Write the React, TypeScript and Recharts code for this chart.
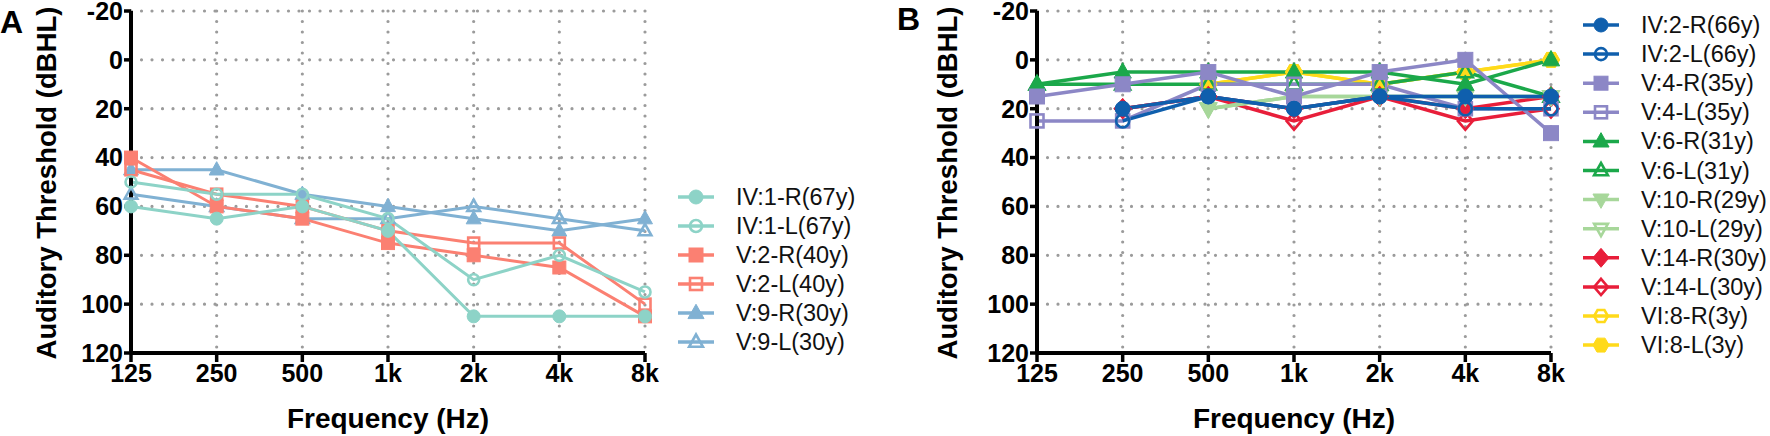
import React from 'react';
import { LineChart, Line, XAxis, YAxis, CartesianGrid } from 'recharts';

// ---------- shared axis data ----------
const FREQS = ['125', '250', '500', '1k', '2k', '4k', '8k'];
const Y_TICKS = [-20, 0, 20, 40, 60, 80, 100, 120];

// ---------- Panel A ----------
const A_NAMES = ['IV:1-R(67y)', 'IV:1-L(67y)', 'V:2-R(40y)', 'V:2-L(40y)', 'V:9-R(30y)', 'V:9-L(30y)'];
const A_IV1_R = [60, 65, 60, 70, 105, 105, 105];
const A_IV1_L = [50, 55, 55, 65, 90, 80, 95];
const A_V2_R = [40, 60, 65, 75, 80, 85, 105];
const A_V2_L = [45, 55, 60, 70, 75, 75, 100];
const A_V9_R = [45, 45, 55, 60, 65, 70, 65];
const A_V9_L = [55, 60, 65, 65, 60, 65, 70];
const A_VALUES = [A_IV1_R, A_IV1_L, A_V2_R, A_V2_L, A_V9_R, A_V9_L];
const A_COLORS = ['#8DD3C7', '#8DD3C7', '#FB8072', '#FB8072', '#80B1D3', '#80B1D3'];
const A_SHAPES = ['circle', 'circle', 'square', 'square', 'triangle', 'triangle'];
const A_FILLED = [true, false, true, false, true, false];

// ---------- Panel B ----------
const B_NAMES = [
  'IV:2-R(66y)', 'IV:2-L(66y)', 'V:4-R(35y)', 'V:4-L(35y)', 'V:6-R(31y)', 'V:6-L(31y)',
  'V:10-R(29y)', 'V:10-L(29y)', 'V:14-R(30y)', 'V:14-L(30y)', 'VI:8-R(3y)', 'VI:8-L(3y)',
];
const B_IV2_R = [null, 20, 15, 20, 15, 15, 15];
const B_IV2_L = [null, 25, 15, 20, 15, 20, 20];
const B_V4_R = [15, 10, 5, 15, 5, 0, 30];
const B_V4_L = [25, 25, 10, 10, 10, 20, 20];
const B_V6_R = [10, 5, 5, 5, 5, 10, 0];
const B_V6_L = [10, 10, 10, 10, 10, 5, 15];
const B_V10_R = [null, null, 20, 15, 15, 15, 15];
const B_V10_L = [null, null, 20, 15, 15, 15, 15];
const B_V14_R = [null, 20, 15, 20, 15, 20, 15];
const B_V14_L = [null, 20, 15, 25, 15, 25, 20];
const B_VI8_R = [null, null, 10, 5, 10, 5, 0];
const B_VI8_L = [null, null, 10, 5, 10, 5, 0];
const B_VALUES = [B_IV2_R, B_IV2_L, B_V4_R, B_V4_L, B_V6_R, B_V6_L, B_V10_R, B_V10_L, B_V14_R, B_V14_L, B_VI8_R, B_VI8_L];
const B_COLORS = ['#0F5FAD', '#0F5FAD', '#8C87C6', '#8C87C6', '#1BA84A', '#1BA84A', '#A7D79A', '#A7D79A', '#E81E3A', '#E81E3A', '#FFDA1A', '#FFDA1A'];
const B_SHAPES = ['circle', 'circle', 'square', 'square', 'triangle', 'triangle', 'triangleDown', 'triangleDown', 'diamond', 'diamond', 'hexagon', 'hexagon'];
const B_FILLED = [true, false, true, false, true, false, true, false, true, false, false, true];

const FONT = "'Liberation Sans', Arial, Helvetica, sans-serif";

function buildData(values: (number | null)[][]) {
  return FREQS.map((f, i) => {
    const row: any = { freq: f };
    values.forEach((s, k) => { row['s' + k] = s[i]; });
    return row;
  });
}

function Marker({ cx, cy, shape, filled, color, r }: any) {
  const sw = filled ? 1 : 2.6;
  const rr = filled ? r : r - 1;
  const fill = filled ? color : 'none';
  const common = { fill, stroke: color, strokeWidth: sw, strokeLinejoin: 'miter' as const };
  if (shape === 'circle') return <circle cx={cx} cy={cy} r={rr} {...common} />;
  if (shape === 'square') return <rect x={cx - rr} y={cy - rr} width={2 * rr} height={2 * rr} {...common} />;
  let pts: number[][] = [];
  if (shape === 'triangle') pts = [[0, -1.25], [1.15, 0.8], [-1.15, 0.8]];
  if (shape === 'triangleDown') pts = [[0, 1.25], [1.15, -0.8], [-1.15, -0.8]];
  if (shape === 'diamond') pts = [[0, -1.35], [1.15, 0], [0, 1.35], [-1.15, 0]];
  if (shape === 'hexagon') pts = [0, 60, 120, 180, 240, 300].map((a) => [Math.cos((a * Math.PI) / 180) * 1.15, Math.sin((a * Math.PI) / 180) * 1.15]);
  const p = pts.map(([x, y]) => `${cx + x * rr},${cy + y * rr}`).join(' ');
  return <polygon points={p} {...common} />;
}

function Panel({ values, colors, shapes, filled, width, yAxisWidth, yLabelX, markerR, lineW }: any) {
  const data = buildData(values);
  const order = values.map((_: any, i: number) => i).reverse();
  return (
    <LineChart width={width} height={436} data={data} margin={{ top: 11, right: 26, bottom: 0, left: 0 }}>
      <CartesianGrid stroke="#9b9b9b" strokeWidth={3.2} strokeDasharray="0 10.5" strokeLinecap="round" />
      <XAxis
        dataKey="freq"
        height={83}
        interval={0}
        tickSize={9}
        tickMargin={2}
        axisLine={{ stroke: '#000', strokeWidth: 4 }}
        tickLine={{ stroke: '#000', strokeWidth: 3.5 }}
        tick={{ fill: '#000', fontSize: 25, fontWeight: 700, fontFamily: FONT }}
        label={(p: any) => {
          const vb = p.viewBox;
          return (
            <text x={vb.x + vb.width / 2} y={vb.y + 75} textAnchor="middle" fill="#000" fontSize={28} fontWeight={700} fontFamily={FONT}>
              Frequency (Hz)
            </text>
          );
        }}
      />
      <YAxis
        width={yAxisWidth}
        reversed
        domain={[-20, 120]}
        ticks={Y_TICKS}
        interval={0}
        tickSize={7}
        tickMargin={1}
        axisLine={{ stroke: '#000', strokeWidth: 4 }}
        tickLine={{ stroke: '#000', strokeWidth: 3.5 }}
        tick={{ fill: '#000', fontSize: 25, fontWeight: 700, fontFamily: FONT }}
        label={(p: any) => {
          const vb = p.viewBox;
          const cy = vb.y + vb.height / 2 + 1;
          return (
            <text transform={`translate(${yLabelX},${cy}) rotate(-90)`} textAnchor="middle" dominantBaseline="central" fill="#000" fontSize={27.5} fontWeight={700} fontFamily={FONT}>
              Auditory Threshold (dBHL)
            </text>
          );
        }}
      />
      {order.map((k: number) => (
        <Line
          key={k}
          type="linear"
          dataKey={'s' + k}
          stroke={colors[k]}
          strokeWidth={lineW}
          isAnimationActive={false}
          activeDot={false}
          dot={(p: any) =>
            p.cx == null || p.cy == null || p.value == null ? (
              <g key={'d' + k + '-' + p.index} />
            ) : (
              <Marker key={'d' + k + '-' + p.index} cx={p.cx} cy={p.cy} shape={shapes[k]} filled={filled[k]} color={colors[k]} r={markerR} />
            )
          }
        />
      ))}
    </LineChart>
  );
}

function LegendBox({ names, colors, shapes, filled, left, top, step, markerR }: any) {
  return (
    <svg style={{ position: 'absolute', left, top }} width={190} height={step * names.length + 10}>
      {names.map((n: string, i: number) => {
        const y = 12 + i * step;
        return (
          <g key={n}>
            <line x1={0} x2={36} y1={y} y2={y} stroke={colors[i]} strokeWidth={3.5} />
            <Marker cx={18} cy={y} shape={shapes[i]} filled={filled[i]} color={colors[i]} r={markerR} />
            <text x={58} y={y} dominantBaseline="central" fontSize={23.5} fill="#111" fontFamily={FONT}>
              {n}
            </text>
          </g>
        );
      })}
    </svg>
  );
}

export default function App() {
  return (
    <div style={{ position: 'absolute', left: 0, top: 0, width: 1770, height: 436, background: '#fff', overflow: 'hidden' }}>
      <div style={{ position: 'absolute', left: 0, top: 0 }}>
        <Panel values={A_VALUES} colors={A_COLORS} shapes={A_SHAPES} filled={A_FILLED} width={671} yAxisWidth={131} yLabelX={46} markerR={6.5} lineW={3} />
      </div>
      <LegendBox names={A_NAMES} colors={A_COLORS} shapes={A_SHAPES} filled={A_FILLED} left={678} top={185} step={29} markerR={7} />
      <div style={{ position: 'absolute', left: 880, top: 0 }}>
        <Panel values={B_VALUES} colors={B_COLORS} shapes={B_SHAPES} filled={B_FILLED} width={697} yAxisWidth={157} yLabelX={67} markerR={7.5} lineW={3.5} />
      </div>
      <LegendBox names={B_NAMES} colors={B_COLORS} shapes={B_SHAPES} filled={B_FILLED} left={1583} top={13} step={29.1} markerR={7} />
      <svg style={{ position: 'absolute', left: 0, top: 0 }} width={1770} height={40}>
        <text x={0} y={33} fontSize={32} fontWeight={700} fontFamily={FONT} fill="#000">A</text>
        <text x={897} y={30} fontSize={32} fontWeight={700} fontFamily={FONT} fill="#000">B</text>
      </svg>
    </div>
  );
}
